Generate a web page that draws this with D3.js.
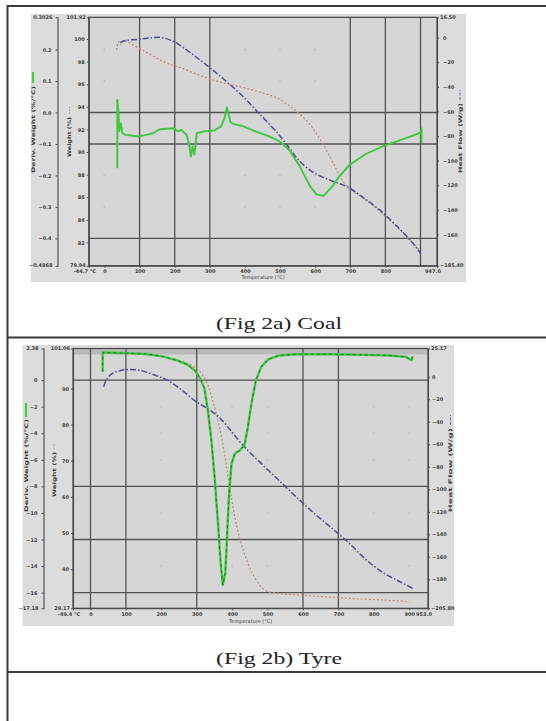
<!DOCTYPE html>
<html>
<head>
<meta charset="utf-8">
<script src="https://cdn.jsdelivr.net/npm/d3@7"></script>
<style>
body { margin: 0; background: #fff; }
svg { display: block; }
</style>
</head>
<body>
<div id="page"></div>
<script>
// ---------- Fig 2a : coal ----------
var coalTempRange = [-44.7, 947.0];
var coalWeightRange = [79.94, 101.92];
var coalDtgRange = [-0.4868, 0.3026];
var coalHeatRange = [-185.4, 16.5];

var coalTempTicks = [0, 100, 200, 300, 400, 500, 600, 700, 800];
var coalWeightTicks = [82, 84, 86, 88, 90, 92, 94, 96, 98, 100];
var coalDtgTicks = [0.2, 0.1, 0.0, -0.1, -0.2, -0.3, -0.4];
var coalHeatTicks = [0, -20, -40, -60, -80, -100, -120, -140, -160];
var coalGridTemp = [100, 200, 300, 700, 800, 900];
var coalGridDtg = [0.0, -0.1, -0.4];
var coalDotTemp = [0, 400, 500, 600];
var coalDotDtg = [0.2, 0.1, -0.2, -0.3];

// deriv. weight (%/°C), green
var coalDtg = [
	[36.5, -0.177], [36.5, 0.040], [39.5, 0.008], [42.5, -0.060], [46.4, -0.034],
	[51.4, -0.066], [59.3, -0.071], [79.0, -0.074], [98.8, -0.076], [118.5, -0.071],
	[138.3, -0.066], [158.0, -0.053], [197.5, -0.050], [209.4, -0.060], [219.3, -0.055],
	[234.1, -0.071], [242.0, -0.108], [245.9, -0.140], [250.9, -0.108], [255.8, -0.134],
	[262.7, -0.066], [282.5, -0.060], [312.1, -0.057], [331.9, -0.044], [341.7, -0.018],
	[348.6, 0.017], [353.6, -0.007], [358.5, -0.029], [365.4, -0.036], [390.1, -0.042],
	[429.6, -0.060], [469.1, -0.076], [498.8, -0.092], [526.4, -0.119], [556.0, -0.171],
	[585.7, -0.235], [604.4, -0.261], [624.2, -0.265], [648.9, -0.235], [668.6, -0.203],
	[698.3, -0.166], [745.7, -0.131], [795.1, -0.106], [844.4, -0.087], [884.0, -0.071],
	[901.7, -0.063], [902.7, -0.050], [902.7, -0.097]
];
// weight (%), brown dotted
var coalWeight = [
	[34.6, 99.03], [39.5, 99.76], [44.4, 99.47], [54.3, 99.91], [64.2, 99.76],
	[98.8, 99.17], [138.3, 98.50], [177.8, 97.85], [217.3, 97.46], [256.8, 96.96],
	[296.3, 96.52], [335.8, 96.14], [375.3, 95.84], [414.8, 95.55], [454.3, 95.19],
	[493.8, 94.75], [523.5, 94.16], [553.1, 93.42], [582.7, 92.54], [612.3, 91.21],
	[642.0, 89.59], [666.7, 88.11], [691.4, 86.93], [730.9, 86.05], [770.4, 85.10],
	[809.9, 84.04], [849.4, 82.86], [879.0, 81.97], [898.8, 81.27]
];
// heat flow, blue dash-dot
var coalHeat = [
	[44.4, -4.07], [59.3, -2.44], [98.8, -1.36], [138.3, 0.0], [163.0, 0.0],
	[197.5, -3.26], [246.9, -12.75], [296.3, -23.61], [345.7, -35.28], [395.1, -48.03],
	[444.4, -62.96], [493.8, -77.88], [523.5, -88.74], [553.1, -99.59], [592.6, -109.09],
	[642.0, -115.87], [691.4, -121.30], [740.7, -130.80], [790.1, -141.65], [839.5, -155.22],
	[879.0, -167.44], [900.7, -175.58]
];

// ---------- Fig 2b : tyre ----------
var tyreTempRange = [-49.4, 953.0];
var tyreWeightRange = [29.17, 101.06];
var tyreDtgRange = [-17.18, 2.38];
var tyreHeatRange = [-205.8, 25.17];

var tyreTempTicks = [0, 100, 200, 300, 400, 500, 600, 700, 800, 900];
var tyreWeightTicks = [40, 50, 60, 70, 80, 90];
var tyreDtgTicks = [0, -2, -4, -6, -8, -10, -12, -14, -16];
var tyreHeatTicks = [0, -20, -40, -60, -80, -100, -120, -140, -160, -180];
var tyreGridTemp = [0, 100, 300, 600, 700];
var tyreGridDtg = [0, -8, -12, -16];
var tyreDotTemp = [200, 400, 500, 800, 900];
var tyreDotDtg = [-2, -4, -6, -10, -14];

var tyreDtg = [
	[34.4, 0.63], [34.4, 2.08], [39.3, 2.08], [98.3, 2.03], [157.4, 1.97],
	[206.5, 1.77], [245.9, 1.47], [275.4, 1.14], [295.0, 0.71], [309.8, 0.13],
	[321.6, -0.62], [331.4, -2.26], [341.3, -4.52], [351.1, -7.52], [360.0, -10.79],
	[366.8, -13.54], [373.7, -15.42], [380.6, -14.54], [386.5, -11.28], [391.4, -8.53],
	[398.3, -6.27], [408.1, -5.52], [422.9, -5.27], [434.7, -4.89], [444.5, -3.51],
	[454.4, -1.75], [467.2, 0.0], [482.0, 1.00], [501.6, 1.56], [531.1, 1.85],
	[580.3, 1.95], [678.6, 1.95], [776.9, 1.90], [845.8, 1.85], [890.0, 1.75],
	[906.8, 1.50], [909.7, 1.80]
];
var tyreWeight = [
	[35.4, 99.68], [137.7, 99.49], [216.4, 98.57], [275.4, 96.91], [309.8, 94.61],
	[329.5, 91.38], [346.2, 86.31], [363.9, 79.40], [381.6, 70.18], [397.3, 60.05],
	[413.1, 51.75], [432.7, 44.84], [457.3, 38.85], [491.7, 34.24], [531.1, 33.32],
	[629.4, 32.58], [727.8, 31.94], [826.1, 31.47], [899.9, 31.01]
];
var tyreHeat = [
	[37.4, -8.88], [44.3, -2.96], [59.0, 2.37], [78.7, 5.03], [103.3, 6.51],
	[137.7, 5.92], [177.0, 2.07], [216.4, -2.96], [255.7, -11.25], [295.0, -21.32],
	[334.4, -29.02], [363.9, -36.12], [393.4, -46.78], [432.7, -61.59], [481.9, -76.99],
	[531.1, -91.79], [580.3, -106.60], [629.4, -120.81], [678.6, -133.84], [727.8, -147.16],
	[777.0, -162.26], [826.1, -174.11], [875.3, -182.40], [909.7, -188.03]
];

var width = 546;
var height = 721;
var fontFam = "DejaVu Sans, sans-serif";
var tickFont = "5px";

var svg = d3.select("#page").append("svg")
	.attr("width", width)
	.attr("height", height);

svg.append("rect")
	.attr("width", width)
	.attr("height", height)
	.attr("fill", "#fff");

// table rules
var rules = [
	{x1: 7, y1: 6, x2: 546, y2: 6},
	{x1: 7.5, y1: 5, x2: 7.5, y2: 721},
	{x1: 7, y1: 337.5, x2: 546, y2: 337.5},
	{x1: 7, y1: 672, x2: 546, y2: 672}
];
svg.selectAll("line.rule")
	.data(rules)
	.enter().append("line")
	.attr("class", "rule")
	.attr("x1", function(d) { return d.x1; })
	.attr("y1", function(d) { return d.y1; })
	.attr("x2", function(d) { return d.x2; })
	.attr("y2", function(d) { return d.y2; })
	.style("stroke", "#3a3a3a")
	.style("stroke-width", 2);

var styleAxis = function(g) {
	g.select(".domain").style("stroke", "#4a4a4a").style("stroke-width", 1.1);
	g.selectAll(".tick line").style("stroke", "#4a4a4a");
	g.selectAll(".tick text")
		.style("font-family", fontFam)
		.style("font-size", tickFont)
		.style("font-weight", "bold")
		.style("fill", "#3c3c3c");
};

var drawChart = function(c) {
	var L = c.layout;
	var g = svg.append("g");

	g.append("rect")
		.attr("x", L.panel[0]).attr("y", L.panel[1])
		.attr("width", L.panel[2]).attr("height", L.panel[3])
		.attr("fill", "#dcdcdc");
	g.append("rect")
		.attr("x", L.left).attr("y", L.top)
		.attr("width", L.right - L.left).attr("height", L.bottom - L.top)
		.attr("fill", "#d6d6d6");
	if (L.band) {
		g.append("rect")
			.attr("x", L.left).attr("y", L.top)
			.attr("width", L.right - L.left).attr("height", L.band)
			.attr("fill", "#bababa");
	}

	var x = d3.scaleLinear().domain(c.temp).range([L.left, L.right]);
	var yW = d3.scaleLinear().domain(c.weight).range([L.bottom, L.top]);
	var yD = d3.scaleLinear().domain(c.dtg).range([L.bottom, L.top]);
	var yH = d3.scaleLinear().domain(c.heat).range([L.bottom, L.top]);

	// faint minor grid marks
	c.dotTemp.forEach(function(t) {
		c.dotDtg.forEach(function(v) {
			g.append("path")
				.attr("d", "M" + (x(t) - 1.5) + "," + yD(v) + "h3M" + x(t) + "," + (yD(v) - 1.5) + "v3")
				.style("stroke", "#c2c2c2")
				.style("stroke-width", 0.8);
		});
	});

	// dark grid lines
	g.selectAll("line.vgrid")
		.data(c.gridTemp)
		.enter().append("line")
		.attr("x1", function(d) { return x(d); })
		.attr("x2", function(d) { return x(d); })
		.attr("y1", L.top).attr("y2", L.bottom)
		.style("stroke", "#525252").style("stroke-width", 1.3);
	g.selectAll("line.hgrid")
		.data(c.gridDtg)
		.enter().append("line")
		.attr("x1", L.left).attr("x2", L.right)
		.attr("y1", function(d) { return yD(d); })
		.attr("y2", function(d) { return yD(d); })
		.style("stroke", "#525252").style("stroke-width", 1.3);

	g.append("rect")
		.attr("x", L.left).attr("y", L.top)
		.attr("width", L.right - L.left).attr("height", L.bottom - L.top)
		.attr("fill", "none")
		.style("stroke", "#454545").style("stroke-width", 1.2);

	// axes
	var fmtEnd = d3.format(".2f");
	g.append("g")
		.attr("transform", "translate(0," + L.bottom + ")")
		.call(d3.axisBottom(x).tickValues(c.tempTicks).tickSize(2).tickPadding(2).tickFormat(d3.format("d")))
		.call(styleAxis);
	g.append("g")
		.attr("transform", "translate(" + L.left + ",0)")
		.call(d3.axisLeft(yW).tickValues(c.weightTicks).tickSize(2).tickPadding(2).tickFormat(d3.format("d")))
		.call(styleAxis);
	g.append("g")
		.attr("transform", "translate(" + L.dtgX + ",0)")
		.call(d3.axisLeft(yD).tickValues(c.dtgTicks).tickSize(2).tickPadding(4).tickFormat(c.dtgFmt))
		.call(styleAxis);
	g.append("g")
		.attr("transform", "translate(" + L.right + ",0)")
		.call(d3.axisRight(yH).tickValues(c.heatTicks).tickSize(2).tickPadding(L.heatPad).tickFormat(d3.format("d")))
		.call(styleAxis);

	// axis end values
	var ends = [
		[L.left - 4, L.bottom + 7.5, c.temp[0].toFixed(1) + " °C", "middle"],
		[L.right - 4, L.bottom + 7.5, c.temp[1].toFixed(1), "middle"],
		[L.left - 3, L.top + 1.5, fmtEnd(c.weight[1]), "end"],
		[L.left - 3, L.bottom + 1.5, fmtEnd(c.weight[0]), "end"],
		[L.dtgX - 5, L.top + 1.5, c.dtgEndFmt(c.dtg[1]), "end"],
		[L.dtgX - 5, L.bottom + 1.5, c.dtgEndFmt(c.dtg[0]), "end"],
		[L.right + 3, L.top + 1.5, fmtEnd(c.heat[1]), "start"],
		[L.right + 3, L.bottom + 1.5, fmtEnd(c.heat[0]), "start"]
	];
	g.selectAll("text.end")
		.data(ends)
		.enter().append("text")
		.attr("x", function(d) { return d[0]; })
		.attr("y", function(d) { return d[1]; })
		.text(function(d) { return d[2]; })
		.style("text-anchor", function(d) { return d[3]; })
		.style("font-family", fontFam)
		.style("font-size", tickFont)
		.style("font-weight", "bold")
		.style("fill", "#3c3c3c");

	// axis titles
	g.append("text")
		.text("Temperature (°C)")
		.attr("x", L.xTitle[0]).attr("y", L.xTitle[1])
		.style("text-anchor", "middle")
		.style("font-family", fontFam)
		.style("font-size", tickFont)
		.style("fill", "#3c3c3c");

	var vTitle = function(tx, y0, y1, label, mk) {
		g.append("text")
			.text(label)
			.attr("transform", "translate(" + tx + "," + y0 + ") rotate(-90)")
			.attr("textLength", y0 - y1)
			.attr("lengthAdjust", "spacingAndGlyphs")
			.style("font-family", fontFam)
			.style("font-size", tickFont)
			.style("font-weight", "bold")
			.style("fill", "#3c3c3c");
		g.append("line")
			.attr("x1", tx - 1.5).attr("x2", tx - 1.5)
			.attr("y1", mk[0]).attr("y2", mk[1])
			.style("stroke", mk[2])
			.style("stroke-width", mk[3])
			.style("stroke-dasharray", mk[4]);
	};
	vTitle(L.dtgTitle[0], L.dtgTitle[1], L.dtgTitle[2], "Deriv. Weight (%/°C)",
		[L.dtgTitle[3], L.dtgTitle[4], "#3fd03f", 2.2, null]);
	vTitle(L.wTitle[0], L.wTitle[1], L.wTitle[2], "Weight (%)",
		[L.wTitle[3], L.wTitle[4], "#a88", 1, "1.5,1.5"]);
	vTitle(L.hTitle[0], L.hTitle[1], L.hTitle[2], "Heat Flow (W/g)",
		[L.hTitle[3], L.hTitle[4], "#669", 1, "3,1.5"]);

	// curves
	var clip = "clip" + c.id;
	g.append("clipPath").attr("id", clip)
		.append("rect")
		.attr("x", L.left).attr("y", L.top)
		.attr("width", L.right - L.left).attr("height", L.bottom - L.top);
	var curves = g.append("g").attr("clip-path", "url(#" + clip + ")");

	var smooth = d3.curveCatmullRom.alpha(0.5);
	curves.append("path")
		.datum(c.weightData)
		.attr("d", d3.line().curve(smooth).x(function(d) { return x(d[0]); }).y(function(d) { return yW(d[1]); }))
		.attr("fill", "none")
		.style("stroke", "#bb8a74")
		.style("stroke-width", 1.2)
		.style("stroke-dasharray", "2,2");
	curves.append("path")
		.datum(c.heatData)
		.attr("d", d3.line().curve(smooth).x(function(d) { return x(d[0]); }).y(function(d) { return yH(d[1]); }))
		.attr("fill", "none")
		.style("stroke", "#4c4c98")
		.style("stroke-width", 1.5)
		.style("stroke-dasharray", "6,2,1.5,2");
	var dtgLine = d3.line().x(function(d) { return x(d[0]); }).y(function(d) { return yD(d[1]); });
	curves.append("path")
		.datum(c.dtgData)
		.attr("d", dtgLine)
		.attr("fill", "none")
		.style("stroke", "#3ec83e")
		.style("stroke-width", c.dtgWidth)
		.style("stroke-linejoin", "round");
	if (c.dtgDash) {
		curves.append("path")
			.datum(c.dtgData)
			.attr("d", dtgLine)
			.attr("fill", "none")
			.style("stroke", "#2b6a2b")
			.style("stroke-width", 0.9)
			.style("stroke-dasharray", "3,3");
	}

	// caption
	svg.append("text")
		.text(c.caption)
		.attr("x", 216).attr("y", L.captionY)
		.attr("textLength", 126)
		.attr("lengthAdjust", "spacingAndGlyphs")
		.style("font-family", "Liberation Serif, Times New Roman, serif")
		.style("font-size", "17.5px")
		.style("fill", "#222");
};

drawChart({
	id: "coal", caption: "(Fig 2a) Coal",
	temp: coalTempRange, weight: coalWeightRange, dtg: coalDtgRange, heat: coalHeatRange,
	tempTicks: coalTempTicks, weightTicks: coalWeightTicks, dtgTicks: coalDtgTicks, heatTicks: coalHeatTicks,
	gridTemp: coalGridTemp, gridDtg: coalGridDtg, dotTemp: coalDotTemp, dotDtg: coalDotDtg,
	dtgData: coalDtg, weightData: coalWeight, heatData: coalHeat,
	dtgFmt: d3.format(".1f"), dtgEndFmt: d3.format(".4f"), dtgWidth: 1.9, dtgDash: false,
	layout: {
		panel: [31, 14, 435, 268], band: 0,
		left: 88.8, right: 437, top: 17.3, bottom: 265.7, dtgX: 57.5, heatPad: 4,
		xTitle: [263, 279],
		dtgTitle: [34.5, 173, 86, 83, 72],
		wTitle: [71, 157, 117, 114, 107],
		hTitle: [461.5, 173, 103, 100, 90],
		captionY: 329.3
	}
});

drawChart({
	id: "tyre", caption: "(Fig 2b) Tyre",
	temp: tyreTempRange, weight: tyreWeightRange, dtg: tyreDtgRange, heat: tyreHeatRange,
	tempTicks: tyreTempTicks, weightTicks: tyreWeightTicks, dtgTicks: tyreDtgTicks, heatTicks: tyreHeatTicks,
	gridTemp: tyreGridTemp, gridDtg: tyreGridDtg, dotTemp: tyreDotTemp, dotDtg: tyreDotDtg,
	dtgData: tyreDtg, weightData: tyreWeight, heatData: tyreHeat,
	dtgFmt: d3.format("d"), dtgEndFmt: d3.format(".2f"), dtgWidth: 2.4, dtgDash: true,
	layout: {
		panel: [22.6, 345, 431.4, 281], band: 6,
		left: 73, right: 428, top: 348.5, bottom: 608.3, dtgX: 43.5, heatPad: 2,
		xTitle: [250.7, 622.5],
		dtgTitle: [27.5, 512, 419, 417, 403],
		wTitle: [55.5, 497, 452, 449, 443],
		hTitle: [452, 512, 428, 425, 415],
		captionY: 664.3
	}
});
</script>
</body>
</html>
